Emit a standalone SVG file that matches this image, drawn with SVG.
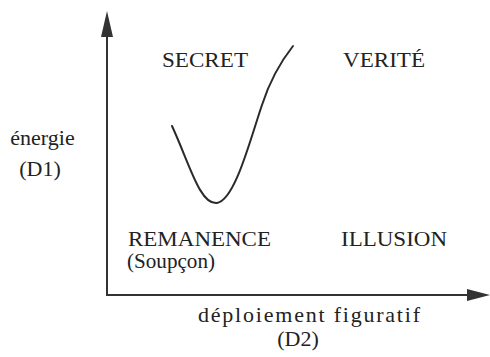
<svg xmlns="http://www.w3.org/2000/svg" width="490" height="357" viewBox="0 0 490 357">
<style>
text{font-family:"Liberation Serif","Times New Roman","DejaVu Serif",serif;font-size:22px;fill:#222}
.sm{font-size:20px}
.axis{stroke:#333;stroke-width:2;fill:none}
.curve{stroke:#2a2a2a;stroke-width:2;fill:none;stroke-linecap:round}
</style>
<rect width="490" height="357" fill="#fff"/>
<g id="connectors">
<path class="axis" d="M107,295 L107,20"/>
<polygon points="107,11 101,37 113,37" fill="#333"/>
<path class="axis" d="M106,295 L478,295"/>
<polygon points="490,295 467,289 467,301" fill="#333"/>
<path class="curve" d="M172,126 C190,165 200,205 217,203 C235,200 250,140 262,105 C270,80 282,60 293,46"/>
</g>
<g id="axis-y-label"><text x="42.5" y="145" text-anchor="middle" font-family="Liberation Serif, serif">énergie</text><text x="40" y="176" text-anchor="middle" font-family="Liberation Serif, serif">(D1)</text></g>
<g id="axis-x-label"><text x="309" y="322" text-anchor="middle" textLength="222" lengthAdjust="spacing" font-family="Liberation Serif, serif">déploiement figuratif</text><text x="298" y="346" text-anchor="middle" font-family="Liberation Serif, serif">(D2)</text></g>
<g id="secret"><text x="162" y="67" textLength="86" lengthAdjust="spacingAndGlyphs" font-family="Liberation Serif, serif">SECRET</text></g>
<g id="verite"><text x="343" y="67" textLength="82" lengthAdjust="spacingAndGlyphs" font-family="Liberation Serif, serif">VERITÉ</text></g>
<g id="remanence"><text x="128" y="246" class="sm" textLength="143" lengthAdjust="spacingAndGlyphs" font-family="Liberation Serif, serif">REMANENCE</text><text x="127" y="268" class="sm" textLength="88" lengthAdjust="spacingAndGlyphs" font-family="Liberation Serif, serif">(Soupçon)</text></g>
<g id="illusion"><text x="341" y="246" textLength="106" lengthAdjust="spacingAndGlyphs" font-family="Liberation Serif, serif">ILLUSION</text></g>
</svg>
